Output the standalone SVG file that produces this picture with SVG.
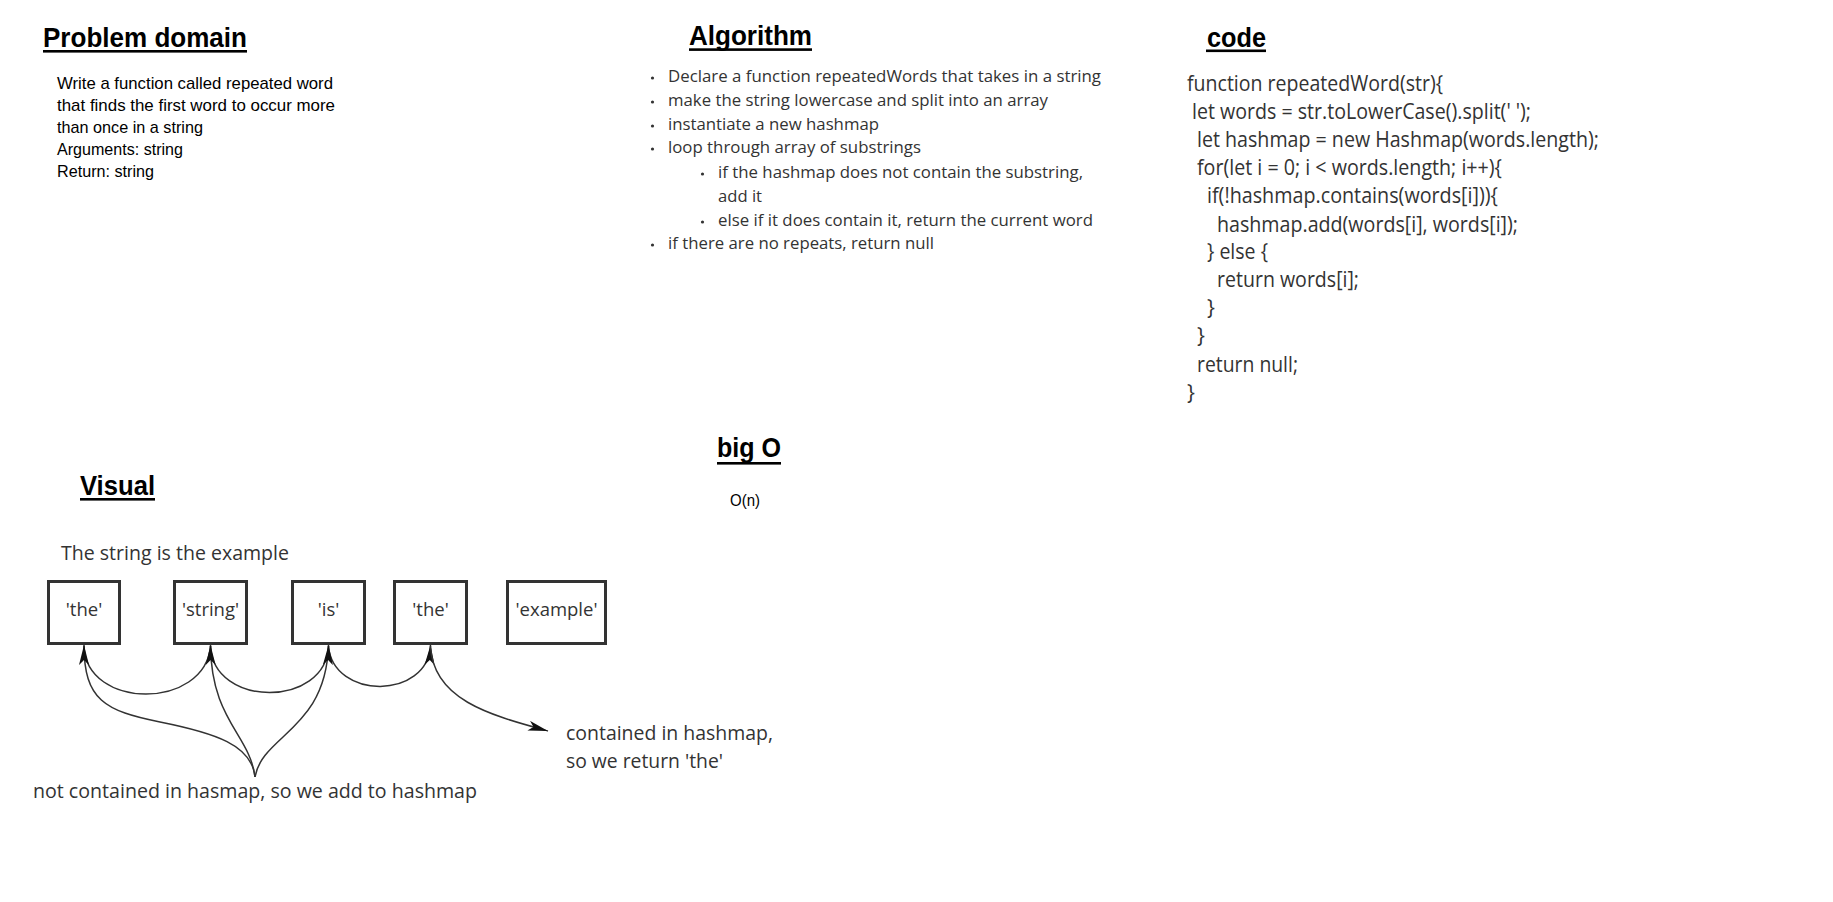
<svg xmlns="http://www.w3.org/2000/svg" width="1833" height="902" viewBox="0 0 1833 902">
<style>
  .title { font-family: "Liberation Sans", Arial, sans-serif; font-weight: bold; font-size: 28px; fill: #000; }
  .uline { fill: #000; }
  .note { font-family: "Liberation Sans", Arial, sans-serif; font-size: 17px; fill: #000; }
  .alg { font-family: "Open Sans", "DejaVu Sans", sans-serif; font-size: 17px; fill: #333; }
  .bullet { fill: #333; }
  .code { font-family: "Open Sans", "DejaVu Sans", sans-serif; font-size: 21px; fill: #333; }
  .vis { font-family: "Open Sans", "DejaVu Sans", sans-serif; font-size: 19.5px; fill: #333; }
  .lbl { font-family: "Open Sans", "DejaVu Sans", sans-serif; font-size: 18.5px; fill: #333; text-anchor: middle; }
  .box { fill: #fff; stroke: #333; stroke-width: 3; }
  .conn { fill: none; stroke: #333; stroke-width: 1.5; }
</style>
<defs>
  <marker id="arrow" markerUnits="userSpaceOnUse" viewBox="0 0 20 10" refX="20" refY="5" markerWidth="20" markerHeight="10" orient="auto">
    <path d="M0,0 L20,5 L0,10 L5,5 Z" fill="#111"/>
  </marker>
</defs>
<rect width="1833" height="902" fill="#fff"/>

<g id="problem-domain">
  <text class="title" x="43" y="47" textLength="204" lengthAdjust="spacingAndGlyphs">Problem domain</text>
  <rect class="uline" x="43" y="50" width="204" height="2.6"/>
  <text class="note" x="57" y="89" textLength="276" lengthAdjust="spacingAndGlyphs">Write a function called repeated word</text>
  <text class="note" x="57" y="111" textLength="278" lengthAdjust="spacingAndGlyphs">that finds the first word to occur more</text>
  <text class="note" x="57" y="133" textLength="146" lengthAdjust="spacingAndGlyphs">than once in a string</text>
  <text class="note" x="57" y="155" textLength="126" lengthAdjust="spacingAndGlyphs">Arguments: string</text>
  <text class="note" x="57" y="177" textLength="97" lengthAdjust="spacingAndGlyphs">Return: string</text>
</g>

<g id="algorithm">
  <text class="title" x="689" y="45" textLength="123" lengthAdjust="spacingAndGlyphs">Algorithm</text>
  <rect class="uline" x="689" y="48.3" width="123" height="2.6"/>
  <circle class="bullet" cx="652.5" cy="78" r="1.6"/>
  <text class="alg" x="668" y="82" textLength="433" lengthAdjust="spacingAndGlyphs">Declare a function repeatedWords that takes in a string</text>
  <circle class="bullet" cx="652.5" cy="102" r="1.6"/>
  <text class="alg" x="668" y="106" textLength="380" lengthAdjust="spacingAndGlyphs">make the string lowercase and split into an array</text>
  <circle class="bullet" cx="652.5" cy="126" r="1.6"/>
  <text class="alg" x="668" y="130" textLength="211" lengthAdjust="spacingAndGlyphs">instantiate a new hashmap</text>
  <circle class="bullet" cx="652.5" cy="149" r="1.6"/>
  <text class="alg" x="668" y="153" textLength="253" lengthAdjust="spacingAndGlyphs">loop through array of substrings</text>
  <circle class="bullet" cx="702.5" cy="174" r="1.6"/>
  <text class="alg" x="718" y="178" textLength="365" lengthAdjust="spacingAndGlyphs">if the hashmap does not contain the substring,</text>
  <text class="alg" x="718" y="202" textLength="44" lengthAdjust="spacingAndGlyphs">add it</text>
  <circle class="bullet" cx="702.5" cy="222" r="1.6"/>
  <text class="alg" x="718" y="226" textLength="375" lengthAdjust="spacingAndGlyphs">else if it does contain it, return the current word</text>
  <circle class="bullet" cx="652.5" cy="245" r="1.6"/>
  <text class="alg" x="668" y="249" textLength="266" lengthAdjust="spacingAndGlyphs">if there are no repeats, return null</text>
</g>

<g id="code">
  <text class="title" x="1207" y="47" textLength="59" lengthAdjust="spacingAndGlyphs">code</text>
  <rect class="uline" x="1206" y="49.5" width="60" height="2.6"/>
  <text class="code" x="1187" y="91" textLength="256" lengthAdjust="spacingAndGlyphs">function repeatedWord(str){</text>
  <text class="code" x="1192" y="119" textLength="339" lengthAdjust="spacingAndGlyphs">let words = str.toLowerCase().split(' ');</text>
  <text class="code" x="1197" y="147" textLength="402" lengthAdjust="spacingAndGlyphs">let hashmap = new Hashmap(words.length);</text>
  <text class="code" x="1197" y="175" textLength="305" lengthAdjust="spacingAndGlyphs">for(let i = 0; i &lt; words.length; i++){</text>
  <text class="code" x="1207" y="203" textLength="291" lengthAdjust="spacingAndGlyphs">if(!hashmap.contains(words[i])){</text>
  <text class="code" x="1217" y="232" textLength="301" lengthAdjust="spacingAndGlyphs">hashmap.add(words[i], words[i]);</text>
  <text class="code" x="1207" y="259" textLength="61" lengthAdjust="spacingAndGlyphs">} else {</text>
  <text class="code" x="1217" y="287" textLength="142" lengthAdjust="spacingAndGlyphs">return words[i];</text>
  <text class="code" x="1207" y="315">}</text>
  <text class="code" x="1197" y="343">}</text>
  <text class="code" x="1197" y="372" textLength="101" lengthAdjust="spacingAndGlyphs">return null;</text>
  <text class="code" x="1187" y="400">}</text>
</g>

<g id="big-o">
  <text class="title" x="717" y="457" textLength="64" lengthAdjust="spacingAndGlyphs">big O</text>
  <rect class="uline" x="717" y="462" width="64" height="2.6"/>
  <text class="note" x="730" y="506" textLength="30" lengthAdjust="spacingAndGlyphs">O(n)</text>
</g>

<g id="visual">
  <text class="title" x="80" y="495" textLength="75" lengthAdjust="spacingAndGlyphs">Visual</text>
  <rect class="uline" x="80" y="498" width="75" height="2.6"/>
  <text class="vis" x="61" y="560" textLength="228" lengthAdjust="spacingAndGlyphs">The string is the example</text>
</g>

<g id="box-the-1">
  <rect class="box" x="48.5" y="581.5" width="71" height="62"/>
  <text class="lbl" x="84" y="616">'the'</text>
</g>
<g id="box-string">
  <rect class="box" x="174.5" y="581.5" width="72" height="62"/>
  <text class="lbl" x="210.5" y="616">'string'</text>
</g>
<g id="box-is">
  <rect class="box" x="292.5" y="581.5" width="72" height="62"/>
  <text class="lbl" x="328.5" y="616">'is'</text>
</g>
<g id="box-the-2">
  <rect class="box" x="394.5" y="581.5" width="72" height="62"/>
  <text class="lbl" x="430.5" y="616">'the'</text>
</g>
<g id="box-example">
  <rect class="box" x="507.5" y="581.5" width="98" height="62"/>
  <text class="lbl" x="556.5" y="616">'example'</text>
</g>

<g id="label-not-contained">
  <text class="vis" x="33" y="798" textLength="444" lengthAdjust="spacingAndGlyphs">not contained in hasmap, so we add to hashmap</text>
</g>
<g id="label-contained">
  <text class="vis" x="566" y="740" textLength="207" lengthAdjust="spacingAndGlyphs">contained in hashmap,</text>
  <text class="vis" x="566" y="768" textLength="157" lengthAdjust="spacingAndGlyphs">so we return 'the'</text>
</g>

<g id="connectors">
  <path class="conn" d="M84,646 C86,710 205,710 210.5,646"/>
  <path class="conn" d="M210.5,646 C213,708 326,708 328.5,646"/>
  <path class="conn" d="M328.5,646 C333,700 428,700 430.5,645" marker-end="url(#arrow)"/>
  <path class="conn" d="M255,777 C252,745 215,733 160,722 S84,700 84,645" marker-end="url(#arrow)"/>
  <path class="conn" d="M255,777 C250,735 211,720 210.5,645" marker-end="url(#arrow)"/>
  <path class="conn" d="M255,777 C262,735 326,730 328.5,645" marker-end="url(#arrow)"/>
  <path class="conn" d="M430.5,646 C433,700 490,715 548,731" marker-end="url(#arrow)"/>
</g>
</svg>
